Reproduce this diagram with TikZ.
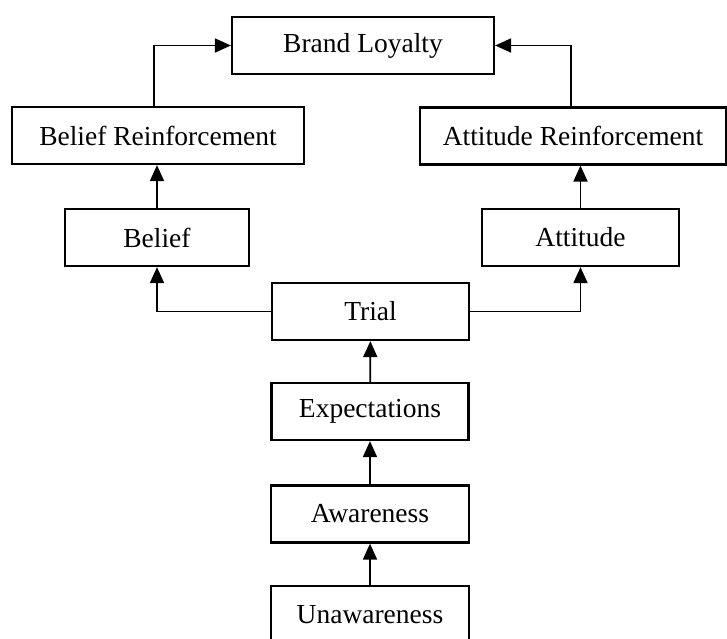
\documentclass[tikz,border=0pt]{standalone}
\usepackage{fontspec}
\setmainfont{Liberation Serif}
\usetikzlibrary{arrows.meta}
\begin{document}
\begin{tikzpicture}[x=1pt,y=-1pt,
  box/.style={draw,line width=2.2pt,minimum height=57pt,inner sep=0pt,font=\fontsize{27.5}{30}\selectfont},
  arr/.style={line width=1.8pt,-{Triangle[length=16pt,width=14pt]}}]
\useasboundingbox (0,0) rectangle (727,638);
\clip (0,0) rectangle (727,638);
\node[box,minimum width=262pt] (bl) at (363,45.5) {Brand Loyalty};
\node[box,minimum width=292pt] (br) at (158,135.5) {Belief Reinforcement};
\node[box,minimum width=306pt] (ar) at (573,136) {Attitude Reinforcement};
\node[box,minimum width=184pt] (belief) at (157,237.5) {Belief};
\node[box,minimum width=197pt] (attitude) at (580.5,237.5) {Attitude};
\node[box,minimum width=197pt] (trial) at (370.5,311.5) {Trial};
\node[box,minimum width=197pt] (expect) at (370,411.5) {Expectations};
\node[box,minimum width=198pt] (aware) at (370,514) {Awareness};
\node[box,minimum width=198pt] (unaware) at (370,614.5) {Unawareness};
\draw[arr] ([xshift=-4pt]br.north) |- (bl.west);
\draw[arr] ([xshift=-2pt]ar.north) |- (bl.east);
\draw[arr] (belief.north) -- (belief.north |- br.south);
\draw[arr] (attitude.north) -- (attitude.north |- ar.south);
\draw[arr] (trial.west) -| (belief.south);
\draw[arr] (trial.east) -| (attitude.south);
\draw[arr] (expect) -- (trial);
\draw[arr] (aware) -- (expect);
\draw[arr] (unaware) -- (aware);
\end{tikzpicture}
\end{document}
